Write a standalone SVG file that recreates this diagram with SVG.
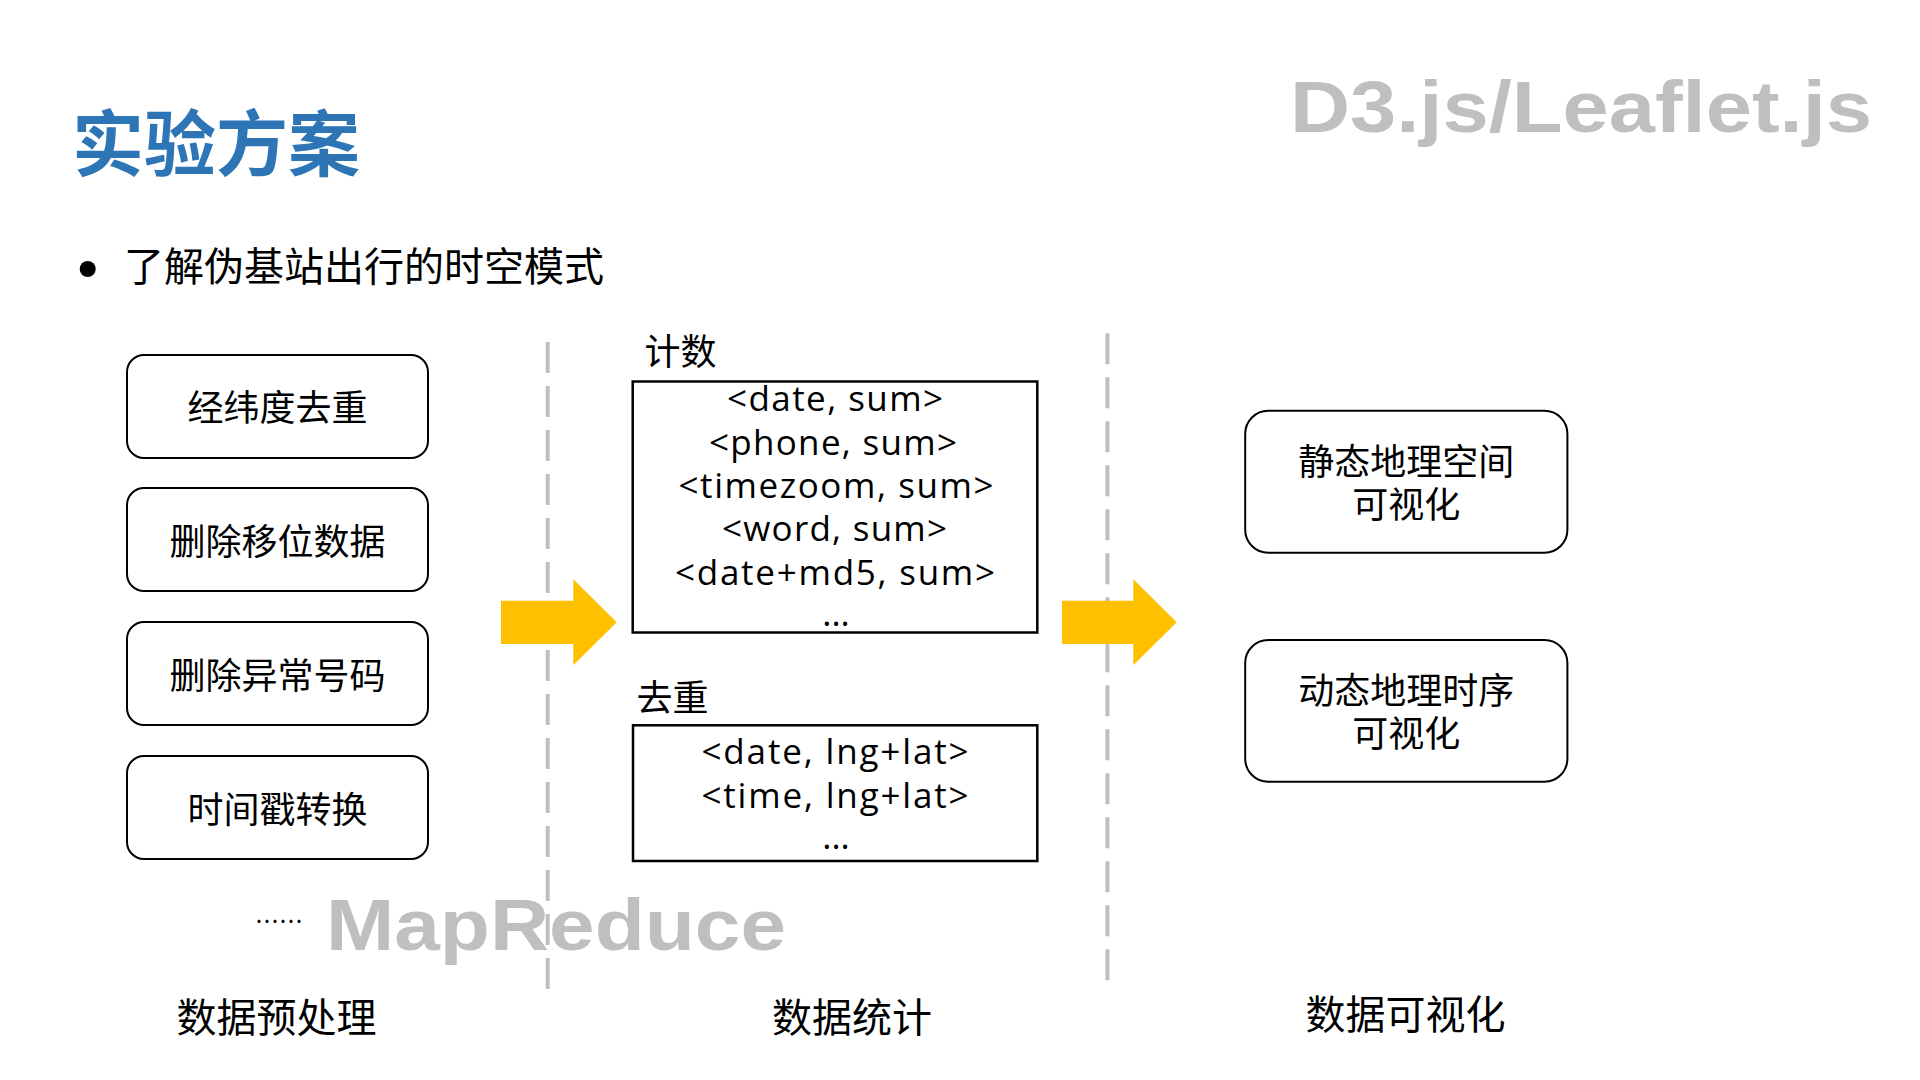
<svg xmlns="http://www.w3.org/2000/svg" width="1920" height="1080" viewBox="0 0 1920 1080">
  <style>
    .cjk { font-family: "Noto Sans CJK SC", "Noto Sans", sans-serif; fill: #000; }
    .lat { font-family: "Open Sans", "Noto Sans", "Noto Sans CJK SC", sans-serif; font-size: 35px; fill: #000; text-anchor: middle; }
    .tech { font-family: "Liberation Sans", Arial, sans-serif; font-weight: bold; font-size: 72px; fill: #BFBFBF; }
    .rbox { fill: #fff; stroke: #000; stroke-width: 2; }
    .sbox { fill: #fff; stroke: #000; stroke-width: 2.5; }
    .node-text { font-size: 36px; text-anchor: middle; }
    .col-label { font-size: 40px; text-anchor: middle; }
    .divider { stroke: #BFBFBF; stroke-width: 4; stroke-dasharray: 31 13; fill: none; }
    .flow { fill: #FFC000; }
  </style>
  <rect x="0" y="0" width="1920" height="1080" fill="#fff"/>

  <g id="title">
    <text x="72" y="170" class="cjk" font-size="72" font-weight="700" style="fill:#2E75B6">实验方案</text>
  </g>

  <g id="bullet">
    <circle cx="87.7" cy="269" r="8" fill="#000"/>
    <text x="124" y="281" class="cjk" font-size="40">了解伪基站出行的时空模式</text>
  </g>

  <g id="tech-labels">
    <text x="1290" y="132" class="tech" textLength="582" lengthAdjust="spacingAndGlyphs">D3.js/Leaflet.js</text>
    <text x="326" y="950" class="tech" textLength="460" lengthAdjust="spacingAndGlyphs">MapReduce</text>
  </g>

  <g id="dividers">
    <line class="divider" x1="547.7" y1="342" x2="547.7" y2="990"/>
    <line class="divider" x1="1107.4" y1="333.3" x2="1107.4" y2="981"/>
  </g>

  <g id="n-dedup-coord">
    <rect class="rbox" x="127" y="355" width="301" height="103" rx="17" ry="17"/>
    <text class="cjk node-text" x="277.5" y="421">经纬度去重</text>
  </g>
  <g id="n-remove-shift">
    <rect class="rbox" x="127" y="488" width="301" height="103" rx="17" ry="17"/>
    <text class="cjk node-text" x="277.5" y="555">删除移位数据</text>
  </g>
  <g id="n-remove-abnormal">
    <rect class="rbox" x="127" y="622" width="301" height="103" rx="17" ry="17"/>
    <text class="cjk node-text" x="277.5" y="689">删除异常号码</text>
  </g>
  <g id="n-timestamp">
    <rect class="rbox" x="127" y="756" width="301" height="103" rx="17" ry="17"/>
    <text class="cjk node-text" x="277.5" y="823">时间戳转换</text>
  </g>
  <g id="n-more">
    <text class="cjk" x="255" y="930" font-size="24">……</text>
  </g>

  <g id="n-count">
    <text class="cjk" x="644.5" y="364.5" font-size="36">计数</text>
    <rect class="sbox" x="632.7" y="381.5" width="404.6" height="251"/>
    <text class="lat" x="835" y="411.3" textLength="216">&lt;date, sum&gt;</text>
    <text class="lat" x="833" y="454.7" textLength="248">&lt;phone, sum&gt;</text>
    <text class="lat" x="836" y="498" textLength="315">&lt;timezoom, sum&gt;</text>
    <text class="lat" x="834.5" y="541.3" textLength="225">&lt;word, sum&gt;</text>
    <text class="lat" x="835" y="584.7" textLength="320">&lt;date+md5, sum&gt;</text>
    <text class="lat" x="836" y="626.3">...</text>
  </g>

  <g id="n-dedup">
    <text class="cjk" x="636.5" y="711.4" font-size="36">去重</text>
    <rect class="sbox" x="633" y="725.3" width="404.3" height="135.7"/>
    <text class="lat" x="835" y="764.3" textLength="267">&lt;date, lng+lat&gt;</text>
    <text class="lat" x="835" y="807.7" textLength="267">&lt;time, lng+lat&gt;</text>
    <text class="lat" x="836" y="849.3">...</text>
  </g>

  <g id="n-static-vis">
    <rect class="rbox" x="1245.2" y="410.7" width="322.2" height="142" rx="23" ry="23"/>
    <text class="cjk node-text" x="1406.3" y="474.5">静态地理空间</text>
    <text class="cjk node-text" x="1406.3" y="518">可视化</text>
  </g>
  <g id="n-dynamic-vis">
    <rect class="rbox" x="1245.2" y="640" width="322.2" height="141.7" rx="23" ry="23"/>
    <text class="cjk node-text" x="1406.3" y="703.7">动态地理时序</text>
    <text class="cjk node-text" x="1406.3" y="746.7">可视化</text>
  </g>

  <g id="column-labels">
    <text class="cjk col-label" x="276.5" y="1032">数据预处理</text>
    <text class="cjk col-label" x="852" y="1032">数据统计</text>
    <text class="cjk col-label" x="1405.5" y="1029">数据可视化</text>
  </g>

  <g id="connectors">
    <path class="flow" d="M501,600.7 H573.3 V579.3 L616.7,622.3 L573.3,665.3 V644 H501 Z"/>
    <path class="flow" d="M1062,600.7 H1133.3 V579.3 L1176.7,622.3 L1133.3,665.3 V644 H1062 Z"/>
  </g>
</svg>
